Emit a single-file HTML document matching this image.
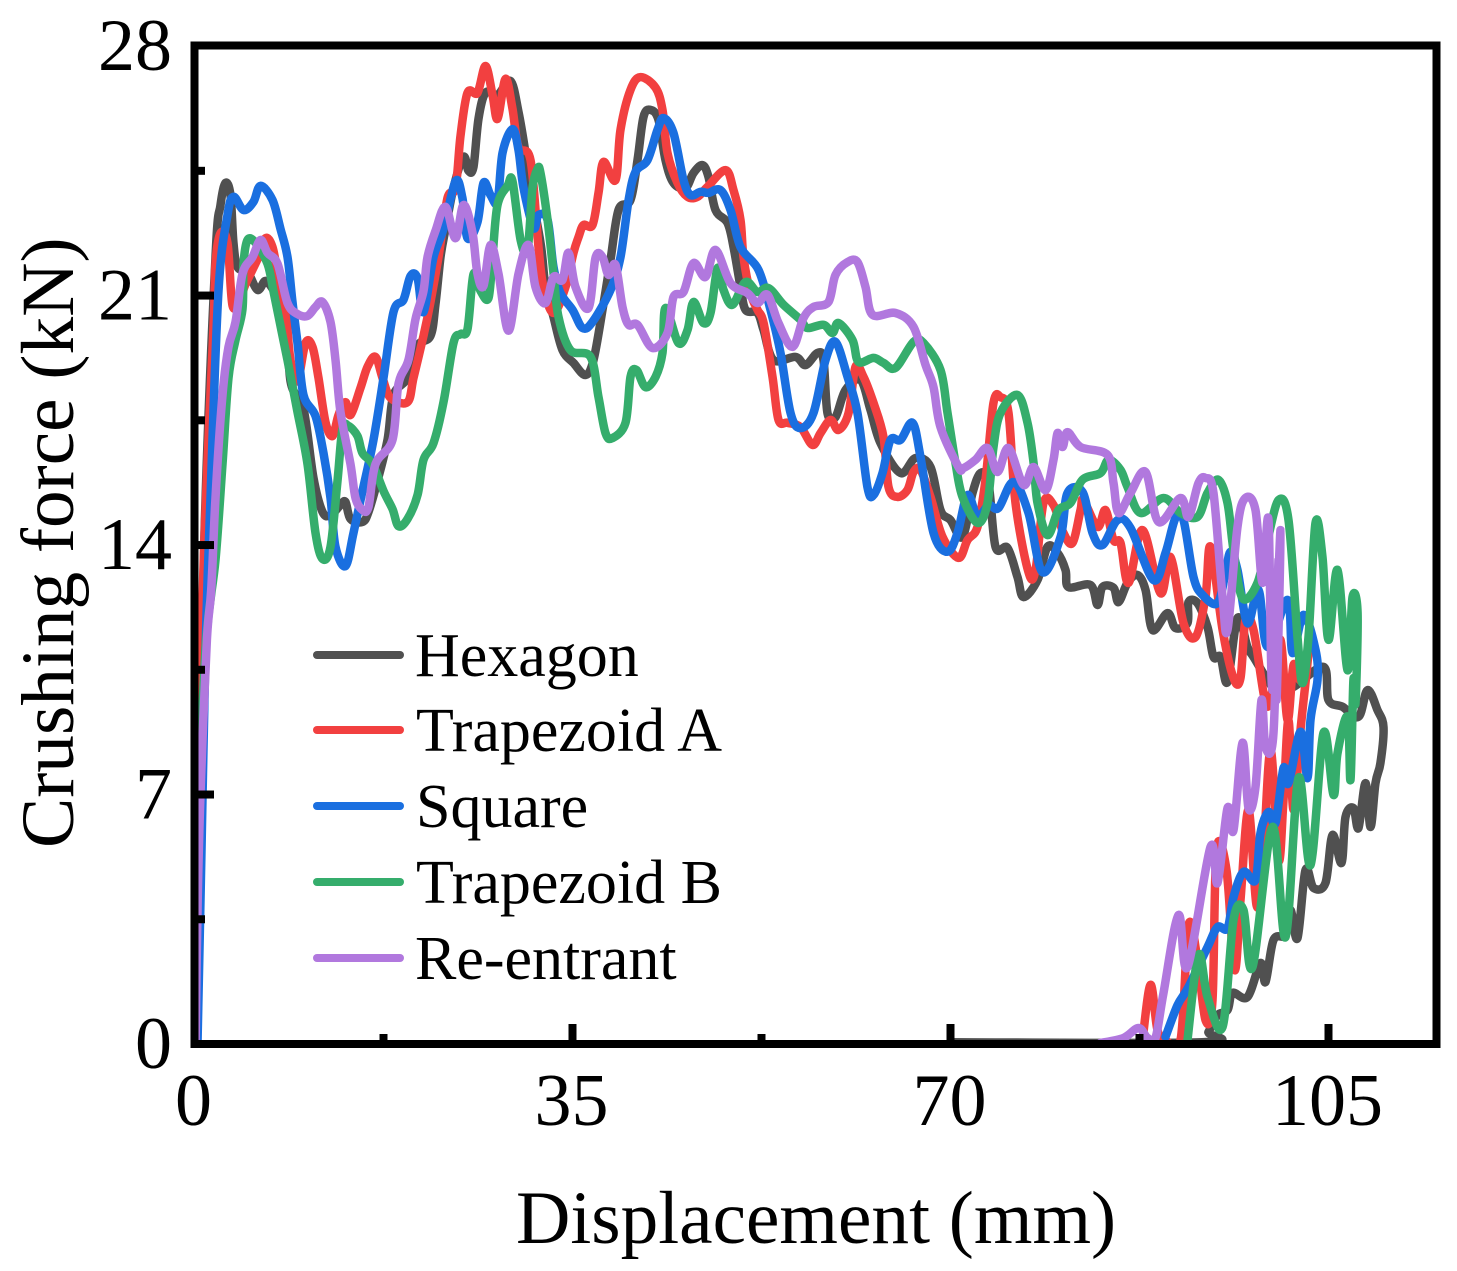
<!DOCTYPE html>
<html lang="en">
<head>
<meta charset="utf-8">
<title>Crushing force vs displacement</title>
<style>
html,body{margin:0;padding:0;background:#fff;width:1457px;height:1271px;overflow:hidden}
svg{display:block}
text{font-family:"Liberation Serif",serif;fill:#000}
.series{fill:none;stroke-width:8.5;stroke-linejoin:round;stroke-linecap:round}
</style>
</head>
<body>
<svg id="chart" width="1457" height="1271" viewBox="0 0 1457 1271" xmlns="http://www.w3.org/2000/svg">
  <defs><clipPath id="plot-clip"><rect x="194" y="45" width="1243" height="999"/></clipPath></defs>
  <g id="series-layer" clip-path="url(#plot-clip)"></g>
  <g id="axis-layer"></g>
  <text x="516" y="1243" font-size="75.3">Displacement (mm)</text>
  <text transform="translate(73,848) rotate(-90)" font-size="75.3">Crushing force (kN)</text>
  <g>
    <g>
      <line x1="317" y1="655" x2="400" y2="655" stroke="#505050" stroke-width="8" stroke-linecap="round"/>
      <text x="415" y="676" font-size="62">Hexagon</text>
    </g>
    <g>
      <line x1="317" y1="730" x2="400" y2="730" stroke="#f24040" stroke-width="8" stroke-linecap="round"/>
      <text x="416" y="751" font-size="62">Trapezoid A</text>
    </g>
    <g>
      <line x1="317" y1="806" x2="400" y2="806" stroke="#1a6fe0" stroke-width="8" stroke-linecap="round"/>
      <text x="416" y="827" font-size="62">Square</text>
    </g>
    <g>
      <line x1="317" y1="882" x2="400" y2="882" stroke="#35ad6c" stroke-width="8" stroke-linecap="round"/>
      <text x="416" y="903" font-size="62">Trapezoid B</text>
    </g>
    <g>
      <line x1="317" y1="958" x2="400" y2="958" stroke="#b178de" stroke-width="8" stroke-linecap="round"/>
      <text x="415" y="979" font-size="62">Re-entrant</text>
    </g>
  </g>
</svg>
<script>
const xTickValues = [35, 70, 105];
const xTickLabels = ["0", "35", "70", "105"];
const xMinorTicks = [17.5, 52.5, 87.5];
const yTickValues = [7, 14, 21];
const yTickLabels = ["0", "7", "14", "21", "28"];
const yMinorTicks = [3.5, 10.5, 17.5, 24.5];

const hexagonDisplacement = [0,.37,.93,1.94,2.41,2.87,3.33,3.61,3.98,4.91,5.83,6.57,7.31,8.43,8.89,10.09,11.02,11.85,12.59,13.52,13.98,14.44,15.56,16.11,16.94,17.87,18.43,19.72,20.65,21.85,22.31,22.78,23.24,23.98,24.91,25.37,25.83,26.3,26.94,28.06,29.26,30,30.65,30.93,32.04,32.5,33.24,34.07,35.09,36.2,36.94,37.78,38.52,39.26,40.37,41.02,41.57,42.22,42.96,43.61,44.35,45.46,46.2,47.04,47.59,48.24,49.35,49.91,50.56,51.02,52.13,52.69,53.61,55.65,56.57,57.69,58.24,58.61,59.35,60.28,61.67,62.59,63.52,65.37,66.76,68.15,69.07,70,71.11,72.04,72.78,73.52,74.17,75.28,76.2,76.76,78.06,78.98,79.91,80.65,80.93,82.96,83.61,84.07,85.09,85.56,86.39,87.31,88.06,88.7,90.09,90.83,91.94,92.04,92.87,93.8,94.35,95,95.65,96.57,97.5,98.06,100.1,101.76,104.54,105,106.3,107.78,108.61,109.54,110.09,109.81,109.35,108.89,108.43,107.78,107.31,106.57,106.2,105.37,104.72,103.61,102.87,102.13,101.48,101.02,99.91,99.17,98.7,97.5,96.11,95.65,94.72,93.89,93.3,70];
const hexagonForce = [0,5.44,14.34,22.08,23.54,24.16,23.82,22.47,21.8,21.66,21.16,21.41,21.16,20.68,18.6,17.82,15.88,14.93,14.84,15.12,15.21,14.73,14.65,14.93,15.8,16.95,18.21,18.69,19.59,19.87,20.74,22.08,22.87,24.02,24.89,24.5,24.61,25.96,26.69,26.63,27.02,26.15,25,24.3,22.48,21.24,20.4,19.47,19.11,18.77,19.19,20.6,22,23.4,23.68,24.8,26.01,26.21,25.93,24.8,24.16,24.02,24.44,24.66,24.33,23.4,23.04,22.36,21.24,20.6,20.51,20.03,19.19,19.28,19.05,19.39,19.19,17.7,17.59,18.35,18.63,17.79,16.86,16.02,16.44,16.19,14.98,14.7,14.23,15.46,16.02,15.74,13.95,13.92,13.1,12.54,13.02,13.95,13.78,13.3,12.82,12.88,12.32,12.82,12.8,12.4,12.94,13.16,12.74,11.62,12.09,11.67,11.81,12.4,12.37,11.7,10.86,10.86,10.16,11.95,11.14,10.86,9.93,10.02,10.58,9.65,9.46,9.18,9.93,9.37,8.89,7.88,7.32,6.09,7.32,6.06,6.62,6.37,5.08,5.86,4.52,4.38,4.88,2.97,3.76,3.06,2.92,1.74,2.27,1.32,1.43,.95,.81,.34,.05,.05];

const trapezoidADisplacement = [.19,.46,.83,1.76,1.94,2.41,3.06,3.52,4.26,4.72,5.93,6.57,7.22,7.78,8.43,8.89,9.54,10.28,10.93,11.48,12.13,12.78,13.33,13.98,14.44,15.37,16.02,16.76,17.41,18.15,19.72,20.28,21.2,21.85,22.59,23.43,24.17,24.63,25.28,26.2,26.94,27.59,28.06,28.8,29.44,30,31.11,31.85,32.31,33.24,34.35,35.09,35.56,36.02,36.85,37.41,37.87,38.98,39.44,40.37,41.3,42.69,43.33,43.8,44.72,45.65,46.57,47.5,49.17,49.91,50.56,50.83,51.48,52.13,52.69,53.52,54.07,54.91,56.11,57.22,57.96,58.89,59.63,60.56,61.2,61.94,62.87,63.8,64.26,65.09,66.02,66.57,67.22,68.15,69.26,70.74,71.57,72.5,73.24,73.98,74.63,75.37,76.02,77.22,77.87,78.61,79.54,80.46,81.3,82.04,82.31,83.61,84.35,85.09,85.74,86.48,87.78,89.44,90.37,91.57,92.69,93.61,94.07,95.19,96.2,96.85,97.31,98.06,99.17,99.81,100.56,101.2,101.76,102.41,103.15,102.41,101.76,101.3,100.83,100.37,99.63,98.89,98.33,97.59,96.85,96.3,95.56,94.63,94.26,93.61,92.87,92.04,91.3,89.91,89.17,88.52,87.78];
const trapezoidAForce = [0,6.85,13.38,20.14,21.88,22.75,22.47,20.72,20.93,21.32,22.08,22.61,22.36,21.49,20.54,19.19,18.6,19.67,19.56,18.69,17.45,17.06,17.65,18.01,17.65,18.41,19,19.28,18.69,18.13,18.01,18.69,19.87,20.82,22.08,23.74,24.02,25.48,26.69,26.69,27.44,26.63,25.96,27.08,26.24,25.17,24.8,22.36,21.24,20.51,21.24,22.2,22.64,22.98,22.98,23.88,24.75,24.24,25.65,26.77,27.13,26.83,26.21,25,24.16,23.77,23.77,24.05,24.52,23.96,23.12,22.08,21.07,20.6,20.23,18.72,17.51,17.43,17.31,16.81,17.14,17.51,17.23,17.7,19,18.72,17.99,17.03,15.63,15.35,15.55,16.05,16.11,15.35,14.23,13.64,14.14,14.51,15.83,17.99,18.15,17.71,15.18,13.24,13.3,15.18,15.12,14.34,14.06,14.98,15.26,14.51,14.98,14.14,14.06,12.94,14.42,12.65,13.66,11.81,11.42,12.54,13.95,11.62,10.27,10.27,11.9,11.62,9.57,9.93,11.34,9.09,10.63,10.21,11.05,8.81,6.57,9.09,6.85,5.16,8.25,4.88,3.9,6.57,4.04,2.08,4.88,5.44,1.23,.67,2.36,3.34,.11,.11,.39,1.66,.11];

const squareDisplacement = [.28,.65,1.02,1.48,2.22,3.06,3.61,4.54,5.46,6.11,7.22,7.96,8.61,9.07,9.54,10.09,11.2,11.94,12.59,13.06,13.98,14.72,15.56,16.57,17.5,18.43,19.35,20,20.65,21.2,22.13,23.06,24.17,24.81,25.28,26.2,26.76,27.41,28.06,28.52,29.44,30,30.46,31.39,31.85,32.69,33.24,33.89,35,35.93,36.85,38.52,39.44,40.19,40.83,41.94,42.87,43.43,44.35,45.28,45.93,46.85,47.59,48.7,49.63,50.56,52.22,53.33,54.26,55.19,56.11,57.31,58.43,59.35,60.46,61.39,62.31,62.87,63.7,64.44,65.37,66.48,67.22,68.43,69.72,70.65,71.57,72.5,73.52,74.44,75.83,77.22,78.52,80.19,80.83,82.22,83.15,84.07,85.46,86.67,88.8,89.91,90.83,91.57,92.5,93.33,94.72,95.46,95.93,96.57,97.5,98.52,99.35,101.2,101.67,102.69,103.8,103.98,103.33,103.06,102.41,101.3,100.83,100.09,99.44,98.7,98.24,97.13,96.2,95.65,94.72,93.8,92.04,91.02,89.91];
const squareForce = [0,5.44,11.06,15.32,21.13,23.26,23.77,23.4,23.63,24.08,23.68,22.87,22.08,20.82,19.67,18.21,17.62,16.58,15.32,13.95,13.41,14.34,15.52,16.95,18.69,20.54,20.88,21.55,21.49,20.54,22.08,22.87,24.21,23.74,22.61,23.06,24.16,23.82,23.63,25,25.67,25.08,24.02,22.9,23.26,23.12,21.8,21.07,20.6,20.09,20.26,21.16,22.08,23.68,24.47,24.8,25.65,25.98,25.56,24.24,23.82,23.91,23.88,23.96,23.4,22.36,21.72,20.6,19.39,17.7,17.28,17.7,19.19,19.7,18.72,17.7,15.63,15.4,16.02,16.95,16.95,17.43,16.47,14.34,13.81,14.34,15.4,14.79,15.12,15.04,15.77,14.9,13.24,14.23,15.46,15.49,14.34,14,14.7,14.48,13.02,13.78,14.76,14.7,13.1,12.6,12.37,13.22,13.81,13.3,11.81,12.74,11.14,12.46,10.97,12.04,11.06,10.21,9.09,7.46,8.76,7.32,7.74,6.2,6.51,5.92,4.6,4.83,4.12,3.25,3.28,2.72,1.6,1.09,.2];

const trapezoidBDisplacement = [0,.28,1.02,1.94,2.59,3.15,3.8,4.44,4.54,4.91,5.65,6.76,7.31,7.96,8.61,9.54,10.46,11.2,11.85,12.59,13.24,13.7,14.26,15.09,15.56,16.48,17.5,18.33,18.89,19.72,20.65,21.2,22.13,23.06,23.98,24.63,25.28,25.83,26.48,27.22,27.59,28.06,28.98,29.44,30.19,30.83,31.3,31.76,32.04,32.69,33.24,33.7,34.81,36.67,37.41,38.06,38.7,39.91,40.37,40.93,41.76,42.69,43.33,43.61,44.81,45.65,46.2,47.13,47.78,48.43,48.98,49.81,51.02,52.13,53.15,54.54,56.11,56.76,58.24,59.07,59.63,60.93,61.48,62.87,63.8,64.91,66.57,67.5,69.07,69.72,70.46,71.11,72.5,73.43,73.98,74.63,76.2,77.13,77.69,78.06,78.98,80,81.11,82.22,83.89,84.63,85.74,86.39,87.59,89.72,91.3,92.87,93.8,94.81,95.65,96.2,97.04,98.43,99.35,100.37,101.3,102.13,102.59,103.15,103.8,104.44,105,105.83,106.76,107.22,107.69,107.5,107.31,107.04,106.76,105.83,105.46,104.54,103.33,102.22,101.02,99.81,97.96,97.13,96.2,95.19,93.8,92.96,91.94];
const trapezoidBForce = [0,5.44,11.06,13.58,16.27,18.69,19.75,20.62,21.89,22.56,22.48,21.89,21.13,20.15,19.19,17.73,16.27,14.34,13.61,13.95,15.8,17.26,17.34,17.06,16.58,16.27,15.52,15.01,14.53,14.73,15.4,16.39,16.86,18.01,19.67,19.92,20.06,21.6,21.13,20.93,22.08,23.54,24.08,24.21,22.56,22.28,24.02,24.55,24.44,23.12,21.63,20.4,19.47,19.28,18.15,17.14,17,17.43,18.72,18.91,18.43,18.72,19.39,20.65,19.67,20.03,20.82,20.23,20.51,21.77,21.16,20.74,21.38,21.1,21.21,20.74,20.32,20.09,20.18,19.95,20.23,19.75,19.14,19.25,19.11,18.97,19.7,19.67,18.91,17.71,16.3,15.35,14.62,15.18,16.75,17.71,18.21,17.43,16.3,15.18,14.28,14.98,15.18,15.83,16.02,16.39,16.11,15.63,14.9,15.32,14.9,14.79,15.46,15.83,15.18,13.86,12.51,12.94,14.14,15.26,14.7,11.42,10.13,11.42,14.62,13.66,11.34,13.3,10.49,12.54,12.09,9.57,10.21,7.41,9.18,8.16,6.99,8.73,5.02,7.46,3,6.09,2.16,3.76,3.48,.48,1.32,2.5,.11];

const reEntrantDisplacement = [.1,.3,.6,1.15,1.55,1.94,2.59,3.15,3.8,4.44,5.37,6.11,6.76,7.69,8.61,9.54,10.46,11.2,11.85,12.59,13.06,13.52,14.44,14.91,15.56,16.11,16.76,18.33,18.89,19.81,20.46,21.2,21.57,22.31,23.24,24.17,24.91,25.74,26.2,26.76,27.41,28.15,29.07,30,30.93,31.57,32.5,33.24,34.07,34.63,35.28,36.48,37.13,37.78,38.33,38.98,39.63,40.19,41.02,42.41,43.8,44.35,45.28,46.2,47.31,48.24,49.63,51.2,52.13,53.06,54.07,55.37,56.39,57.31,58.7,59.35,60.46,61.39,62.13,62.78,64.91,66.57,67.69,68.43,69.07,70.74,71.2,72.31,73.43,74.35,75.37,76.76,77.69,78.8,79.54,79.91,80.37,80.83,82.04,84.54,85.09,85.56,86.67,88.06,89.26,91.3,92.04,92.96,93.61,94.35,95.19,95.65,96.57,97.31,98.24,98.89,99.44,99.81,100.56,100.19,100.37,99.91,99.17,98.8,98.24,97.59,97.04,96.2,95.65,94.72,94.07,91.94,91.11,89.72,88.98,88.24,87.41,86.02,83.89];
const reEntrantForce = [0,4.04,7.41,11.34,12.74,15.32,18.21,19.56,20.26,21.61,22.08,22.56,22.2,21.89,20.79,20.48,20.43,20.68,20.82,20.26,19.19,17.73,16.27,15.32,14.98,15.07,16.27,16.95,18.52,19.19,20.34,21.13,22.08,22.81,23.49,22.61,23.54,22.76,21.61,21.27,22.42,21.61,20.01,21.61,22.42,21.24,20.79,21.52,21.44,22.2,21.24,20.65,22.06,22.08,21.58,21.86,20.68,20.18,20.18,19.53,19.95,20.96,21.1,21.91,21.52,22.28,21.35,21.07,20.79,21.02,20.23,19.56,20.37,20.68,20.82,21.58,21.94,21.94,21.24,20.46,20.51,20.12,19.05,18.43,17.31,16.19,16.16,16.39,16.72,16.05,16.72,15.69,16.19,15.54,16.39,17.14,16.75,17.17,16.75,16.53,15.74,14.9,15.46,16.05,14.65,15.32,14.79,15.74,15.88,15.46,12.54,11.62,14.51,15.32,14.98,12.94,14.7,9.93,14.42,9.65,13.58,8.73,8.33,9.65,7.21,6.62,8.45,6,6.62,4.52,5.53,2.16,3.62,1.43,.17,.17,.45,.17,.03];

const NS = "http://www.w3.org/2000/svg";
const xScale = v => 194.5 + v * 10.8;
const yScale = v => 1044 - v * 35.64;

function smoothPath(xs, ys) {
  const p = xs.map((x, i) => [xScale(x), yScale(ys[i])]);
  let d = "M" + p[0][0].toFixed(1) + " " + p[0][1].toFixed(1);
  for (let i = 0; i < p.length - 1; i++) {
    const a = p[Math.max(0, i - 1)], b = p[i], c = p[i + 1], e = p[Math.min(p.length - 1, i + 2)];
    const c1x = b[0] + (c[0] - a[0]) / 6, c1y = b[1] + (c[1] - a[1]) / 6;
    const c2x = c[0] - (e[0] - b[0]) / 6, c2y = c[1] - (e[1] - b[1]) / 6;
    d += "C" + c1x.toFixed(1) + " " + c1y.toFixed(1) + " " + c2x.toFixed(1) + " " + c2y.toFixed(1) + " " + c[0].toFixed(1) + " " + c[1].toFixed(1);
  }
  return d;
}

const seriesLayer = document.getElementById("series-layer");

const hexagonLine = document.createElementNS(NS, "path");
hexagonLine.setAttribute("class", "series");
hexagonLine.setAttribute("stroke", "#505050");
hexagonLine.setAttribute("d", smoothPath(hexagonDisplacement, hexagonForce));


seriesLayer.appendChild(hexagonLine);

const trapezoidALine = document.createElementNS(NS, "path");
trapezoidALine.setAttribute("class", "series");
trapezoidALine.setAttribute("stroke", "#f24040");
trapezoidALine.setAttribute("d", smoothPath(trapezoidADisplacement, trapezoidAForce));


seriesLayer.appendChild(trapezoidALine);

const squareLine = document.createElementNS(NS, "path");
squareLine.setAttribute("class", "series");
squareLine.setAttribute("stroke", "#1a6fe0");
squareLine.setAttribute("d", smoothPath(squareDisplacement, squareForce));


seriesLayer.appendChild(squareLine);

const trapezoidBLine = document.createElementNS(NS, "path");
trapezoidBLine.setAttribute("class", "series");
trapezoidBLine.setAttribute("stroke", "#35ad6c");
trapezoidBLine.setAttribute("d", smoothPath(trapezoidBDisplacement, trapezoidBForce));


seriesLayer.appendChild(trapezoidBLine);

const reEntrantLine = document.createElementNS(NS, "path");
reEntrantLine.setAttribute("class", "series");
reEntrantLine.setAttribute("stroke", "#b178de");
reEntrantLine.setAttribute("d", smoothPath(reEntrantDisplacement, reEntrantForce));


seriesLayer.appendChild(reEntrantLine);

const axisLayer = document.getElementById("axis-layer");

const frame = document.createElementNS(NS, "rect");
frame.setAttribute("x", 194.5);
frame.setAttribute("y", 45.5);
frame.setAttribute("width", 1242);
frame.setAttribute("height", 998.5);
frame.setAttribute("fill", "none");
frame.setAttribute("stroke", "#000");
frame.setAttribute("stroke-width", 8);


axisLayer.appendChild(frame);

function addRect(x, y, w, h, name) {
  const r = document.createElementNS(NS, "rect");
  r.setAttribute("x", x);
  r.setAttribute("y", y);
  r.setAttribute("width", w);
  r.setAttribute("height", h);
  r.setAttribute("fill", "#000");
  
  
  axisLayer.appendChild(r);
}
function addLabel(x, y, anchor, str, name) {
  const t = document.createElementNS(NS, "text");
  t.setAttribute("x", x);
  t.setAttribute("y", y);
  t.setAttribute("text-anchor", anchor);
  t.setAttribute("font-size", 74);
  t.textContent = str;
  
  
  axisLayer.appendChild(t);
}
xTickValues.forEach(v => addRect(xScale(v) - 4, 1024, 8, 17, "x-major-tick"));
xMinorTicks.forEach(v => addRect(xScale(v) - 4, 1034, 8, 7, "x-minor-tick"));
yTickValues.forEach(v => addRect(197, yScale(v) - 4, 17, 8, "y-major-tick"));
yMinorTicks.forEach(v => addRect(197, yScale(v) - 4, 8, 8, "y-minor-tick"));
xTickLabels.forEach(s => addLabel(xScale(+s) - 1, 1125, "middle", s, "x-tick-label"));
yTickLabels.forEach(s => addLabel(172, yScale(+s) + 24, "end", s, "y-tick-label"));
</script>
</body>
</html>
